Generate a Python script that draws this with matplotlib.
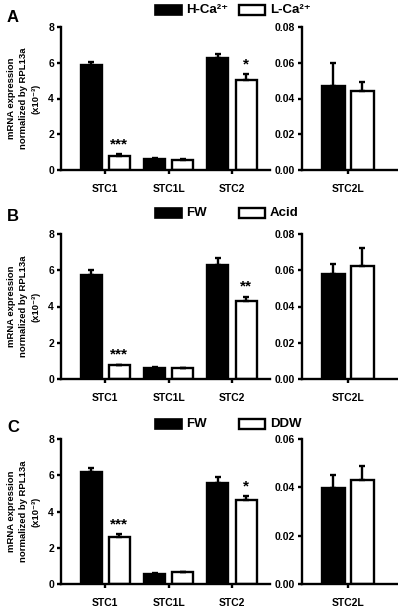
import matplotlib
matplotlib.use('Agg')
import matplotlib.pyplot as plt
import numpy as np
from matplotlib.patches import Rectangle

plt.rcParams['font.family'] = ['Liberation Sans', 'DejaVu Sans']
plt.rcParams['font.weight'] = 'bold'

genes = ['STC1', 'STC1L', 'STC2']
gene2 = ['STC2L']

# panel A: H-Ca2+ vs L-Ca2+
a_ctrl = [5.9, 0.63, 6.25]
a_ctrl_err = [0.15, 0.03, 0.25]
a_trt = [0.8, 0.56, 5.05]
a_trt_err = [0.07, 0.03, 0.3]
a_l = [0.047, 0.044]
a_l_err = [0.013, 0.005]
a_stars = ['***', '', '*']

# panel B: FW vs Acid
b_ctrl = [5.73, 0.63, 6.3]
b_ctrl_err = [0.3, 0.03, 0.4]
b_trt = [0.76, 0.6, 4.3]
b_trt_err = [0.04, 0.03, 0.25]
b_l = [0.058, 0.0625]
b_l_err = [0.0055, 0.0095]
b_stars = ['***', '', '**']

# panel C: FW vs DDW
c_ctrl = [6.2, 0.55, 5.57]
c_ctrl_err = [0.2, 0.04, 0.32]
c_trt = [2.58, 0.64, 4.63]
c_trt_err = [0.18, 0.03, 0.2]
c_l = [0.0397, 0.043]
c_l_err = [0.0053, 0.0058]
c_stars = ['***', '', '*']

W, H = 398, 608
fig = plt.figure(figsize=(W / 100, H / 100), dpi=100)

LW = 1.7
FS = 7.5


def px(x0, y0, x1, y1):
    return [x0 / W, 1 - y1 / H, (x1 - x0) / W, (y1 - y0) / H]


def style(ax):
    for s in ['top', 'right']:
        ax.spines[s].set_visible(False)
    for s in ['left', 'bottom']:
        ax.spines[s].set_linewidth(LW)
    ax.tick_params(width=LW, length=3, labelsize=FS, pad=2)
    for lab in ax.get_xticklabels() + ax.get_yticklabels():
        lab.set_fontweight('bold')


def panel(top, bot, letter, let_y, names, ctrl, ctrl_err, trt, trt_err,
          lv, lv_err, stars, rmax, rticks):
    ax = fig.add_axes(px(61, top, 270, bot))
    x = np.arange(len(names))
    w = 0.33
    off = 0.222
    ax.bar(x - off, ctrl, w, color='black', edgecolor='black', lw=LW,
           yerr=[np.zeros(3), ctrl_err], capsize=2.5,
           error_kw=dict(lw=LW, capthick=LW, ecolor='black'))
    ax.bar(x + off, trt, w, color='white', edgecolor='black', lw=LW,
           yerr=[np.zeros(3), trt_err], capsize=2.5,
           error_kw=dict(lw=LW, capthick=LW, ecolor='black'))
    for i, s in enumerate(stars):
        if s:
            ax.text(x[i] + off, trt[i] + trt_err[i] + 0.15, s, ha='center',
                    va='bottom', fontsize=11, fontweight='bold')
    ax.set_xlim(-0.7, 2.6)
    ax.set_ylim(0, 8)
    ax.set_yticks([0, 2, 4, 6, 8])
    ax.set_xticks(x)
    ax.set_xticklabels(names)
    style(ax)
    ax.tick_params(axis='x', pad=7)
    fig.text(24 / W, 1 - (top + bot) / 2 / H,
             'mRNA expression\nnormalized by RPL13a\n(x10⁻³)',
             fontsize=6.8, fontweight='bold', linespacing=1.45,
             rotation=90, ha='center', va='center', multialignment='center')

    ax2 = fig.add_axes(px(302, top, 397, bot))
    ax2.bar([-0.23], lv[0], 0.36, color='black', edgecolor='black', lw=LW,
            yerr=[[0], [lv_err[0]]], capsize=2.5,
            error_kw=dict(lw=LW, capthick=LW, ecolor='black'))
    ax2.bar([0.23], lv[1], 0.36, color='white', edgecolor='black', lw=LW,
            yerr=[[0], [lv_err[1]]], capsize=2.5,
            error_kw=dict(lw=LW, capthick=LW, ecolor='black'))
    ax2.set_xlim(-0.73, 0.78)
    ax2.set_ylim(0, rmax)
    ax2.set_yticks(rticks)
    ax2.set_yticklabels(['%.2f' % t for t in rticks])
    ax2.set_xticks([0])
    ax2.set_xticklabels(gene2)
    style(ax2)
    ax2.tick_params(axis='x', pad=7)

    fig.text(7 / W, 1 - let_y / H, letter, fontsize=12,
             fontweight='bold', va='center', ha='left')


def legend(yc, lab1, lab2):
    h = 10
    fig.add_artist(Rectangle((155 / W, 1 - (yc + h / 2) / H), 27 / W, h / H,
                             transform=fig.transFigure, facecolor='black',
                             edgecolor='black', lw=1.2))
    fig.add_artist(Rectangle((239 / W, 1 - (yc + h / 2) / H), 26 / W, h / H,
                             transform=fig.transFigure, facecolor='white',
                             edgecolor='black', lw=1.7))
    fig.text(186 / W, 1 - yc / H, lab1, fontsize=9.5, fontweight='bold',
             va='center', ha='left')
    fig.text(270 / W, 1 - yc / H, lab2, fontsize=9.5, fontweight='bold',
             va='center', ha='left')


panel(27, 170, 'A', 18, genes, a_ctrl, a_ctrl_err, a_trt, a_trt_err,
      a_l, a_l_err, a_stars, 0.08, [0, 0.02, 0.04, 0.06, 0.08])
legend(10, 'H-Ca²⁺', 'L-Ca²⁺')

panel(234, 379, 'B', 217, genes, b_ctrl, b_ctrl_err, b_trt, b_trt_err,
      b_l, b_l_err, b_stars, 0.08, [0, 0.02, 0.04, 0.06, 0.08])
legend(213, 'FW', 'Acid')

panel(439, 584, 'C', 428, genes, c_ctrl, c_ctrl_err, c_trt, c_trt_err,
      c_l, c_l_err, c_stars, 0.06, [0, 0.02, 0.04, 0.06])
legend(424, 'FW', 'DDW')

fig.savefig('out.png', dpi=100)
